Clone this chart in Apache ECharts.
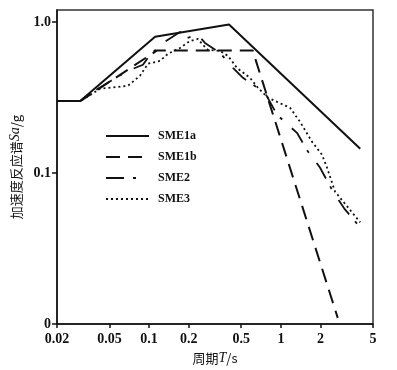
<!DOCTYPE html>
<html>
<head>
<meta charset="utf-8">
<script src="https://cdn.jsdelivr.net/npm/echarts@6/dist/echarts.min.js"></script>
<style>html,body{margin:0;padding:0;background:#fff}#c{width:397px;height:370px}</style>
</head>
<body>
<div id="c"></div>
<script>
// Period T (s) and spectral acceleration Sa (g) for each series
const T_SME1a  = [0.02, 0.03, 0.111, 0.404, 4.0];
const SA_SME1a = [0.30, 0.30, 0.80, 0.965, 0.145];

const T_SME1b  = [0.02, 0.03, 0.115, 0.61, 2.7];
const SA_SME1b = [0.30, 0.30, 0.65, 0.65, 0.011];

const T_SME2  = [0.02, 0.03, 0.0344, 0.0514, 0.0691, 0.0898, 0.1015, 0.1274, 0.1715, 0.1938, 0.2349, 0.2654, 0.3449, 0.4329, 0.5157, 0.7568, 0.9337, 1.132, 1.324, 1.605, 1.979, 2.484, 3.063, 4.0];
const SA_SME2 = [0.30, 0.30, 0.33, 0.409, 0.476, 0.522, 0.607, 0.729, 0.862, 0.786, 0.823, 0.729, 0.626, 0.498, 0.428, 0.341, 0.244, 0.209, 0.185, 0.139, 0.109, 0.0756, 0.0575, 0.0437];

const T_SME3  = [0.02, 0.03, 0.0424, 0.058, 0.0691, 0.0852, 0.098, 0.1209, 0.139, 0.1715, 0.2042, 0.2349, 0.2563, 0.2797, 0.3449, 0.3967, 0.464, 0.5824, 0.67, 0.798, 1.172, 1.395, 1.72, 2.049, 2.237, 2.572, 3.228, 4.0];
const SA_SME3 = [0.30, 0.30, 0.362, 0.373, 0.379, 0.441, 0.530, 0.554, 0.617, 0.675, 0.751, 0.774, 0.707, 0.655, 0.645, 0.598, 0.498, 0.428, 0.3675, 0.3157, 0.2712, 0.2193, 0.1617, 0.1327, 0.1089, 0.0756, 0.0593, 0.0472];

const X_TICKS = [0.02, 0.05, 0.1, 0.2, 0.5, 1, 2, 5];
const X_TICK_LABELS = ['0.02', '0.05', '0.1', '0.2', '0.5', '1', '2', '5'];
const Y_TICKS = [0.01, 0.1, 1];
const Y_TICK_LABELS = ['0', '0.1', '1.0'];

const lg = Math.log10;
const pts = (ts, ss) => ts.map((t, i) => [lg(t), lg(ss[i])]);
const xVals = X_TICKS.map(lg);
const yVals = Y_TICKS.map(lg);
const near = (a, b) => Math.abs(a - b) < 1e-6;
const labelOf = (vals, labels) => v => {
  for (let i = 0; i < vals.length; i++) if (near(vals[i], v)) return labels[i];
  return '';
};

const numFont = {fontFamily: 'Liberation Serif', fontWeight: 'bold', fontSize: 14, color: '#111'};

const chart = echarts.init(document.getElementById('c'), null, {renderer: 'canvas'});
chart.setOption({
  animation: false,
  backgroundColor: '#fff',
  grid: {left: 57, right: 24, top: 10, bottom: 45, show: true, borderColor: '#333', borderWidth: 1.5, backgroundColor: 'transparent'},
  legend: {
    orient: 'vertical', left: 105, top: 126, itemWidth: 43, itemHeight: 14, itemGap: 9,
    padding: [4, 6, 4, 0],
    itemStyle: {opacity: 0},
    textStyle: {fontFamily: 'Liberation Serif', fontWeight: 'bold', fontSize: 12, color: '#111', padding: [0, 0, 0, 4]},
    data: ['SME1a', 'SME1b', 'SME2', 'SME3']
  },
  xAxis: {
    type: 'value', min: lg(0.02), max: lg(5),
    name: '周期{i|T}/s', nameLocation: 'middle', nameGap: 22,
    nameTextStyle: {fontFamily: 'Noto Sans CJK SC', fontSize: 13, color: '#111',
      rich: {i: {fontFamily: 'Liberation Serif', fontStyle: 'italic', fontSize: 14, color: '#111'}}},
    axisLine: {show: true, onZero: false, lineStyle: {color: '#111', width: 1.5}},
    axisTick: {show: true, inside: false, length: 4, lineStyle: {color: '#111', width: 1.5}, customValues: xVals},
    axisLabel: Object.assign({customValues: xVals, margin: 8, formatter: labelOf(xVals, X_TICK_LABELS)}, numFont),
    splitLine: {show: false}
  },
  yAxis: {
    type: 'value', min: -2, max: 0.0806,
    name: '加速度反应谱{i|Sa}/g', nameLocation: 'middle', nameGap: 32, nameRotate: 90,
    nameTextStyle: {fontFamily: 'Noto Sans CJK SC', fontSize: 13, color: '#111',
      rich: {i: {fontFamily: 'Liberation Serif', fontStyle: 'italic', fontSize: 14, color: '#111'}}},
    axisLine: {show: true, onZero: false, lineStyle: {color: '#111', width: 1.5}},
    axisTick: {show: true, inside: false, length: 5, lineStyle: {color: '#111', width: 1.5}, customValues: yVals},
    axisLabel: Object.assign({customValues: yVals, margin: 6, formatter: labelOf(yVals, Y_TICK_LABELS)}, numFont),
    splitLine: {show: false}
  },
  series: [
    {name: 'SME1a', type: 'line', symbol: 'none', data: pts(T_SME1a, SA_SME1a),
      lineStyle: {color: '#111', width: 2, type: 'solid'}, itemStyle: {color: '#111'}},
    {name: 'SME1b', type: 'line', symbol: 'none', data: pts(T_SME1b, SA_SME1b),
      lineStyle: {color: '#111', width: 2, type: [14, 8]}, itemStyle: {color: '#111'}},
    {name: 'SME2', type: 'line', symbol: 'none', data: pts(T_SME2, SA_SME2),
      lineStyle: {color: '#111', width: 1.8, type: [18, 9, 3, 13]}, itemStyle: {color: '#111'}},
    {name: 'SME3', type: 'line', symbol: 'none', data: pts(T_SME3, SA_SME3),
      lineStyle: {color: '#111', width: 1.8, type: [2, 3]}, itemStyle: {color: '#111'}}
  ]
});
</script>
</body>
</html>
